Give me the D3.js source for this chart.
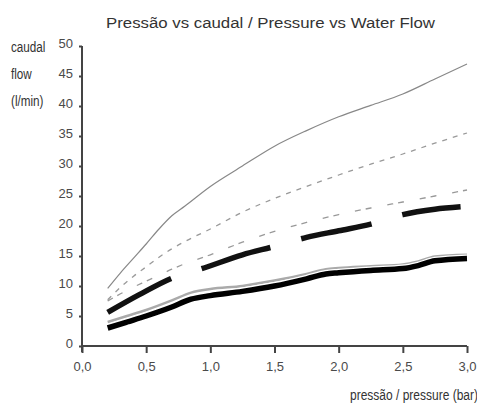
<!DOCTYPE html>
<html>
<head>
<meta charset="utf-8">
<script src="https://cdn.jsdelivr.net/npm/d3@7"></script>
<style>
  body { margin: 0; background: #fff; }
  svg { display: block; }
</style>
</head>
<body>
<svg id="chart"></svg>
<script>
// pressure (bar) sample points for each curve
const thinSolidP = [0.2, 0.3, 0.4, 0.5, 0.6, 0.7, 0.8, 1.0, 1.25, 1.5, 1.75, 2.0, 2.25, 2.5, 2.75, 3.0];
const thinSolidV = [9.6, 12.2, 14.6, 17.0, 19.5, 21.7, 23.3, 26.6, 30.0, 33.3, 35.9, 38.2, 40.1, 42.0, 44.5, 47.0];

const dashedHighP = [0.2, 0.3, 0.4, 0.5, 0.6, 0.7, 0.8, 1.0, 1.25, 1.5, 1.75, 2.0, 2.25, 2.5, 2.75, 3.0];
const dashedHighV = [7.7, 9.8, 11.6, 13.2, 14.8, 16.2, 17.4, 19.5, 22.3, 24.6, 26.6, 28.5, 30.3, 32.0, 33.8, 35.5];

const dashedLowP = [0.2, 0.3, 0.4, 0.5, 0.6, 0.7, 0.8, 1.0, 1.25, 1.5, 1.75, 2.0, 2.25, 2.5, 2.75, 3.0];
const dashedLowV = [7.5, 8.7, 9.8, 10.8, 11.8, 12.8, 13.7, 15.2, 17.3, 19.1, 20.6, 21.9, 23.0, 24.0, 25.0, 26.0];

const longDashP = [0.2, 0.45, 0.7, 0.95, 1.25, 1.5, 1.75, 2.0, 2.25, 2.5, 2.75, 2.95];
const longDashV = [5.6, 8.6, 11.3, 13.0, 15.2, 16.6, 18.1, 19.2, 20.3, 21.9, 22.8, 23.2];

const grayP = [0.2, 0.35, 0.5, 0.7, 0.85, 1.0, 1.25, 1.5, 1.75, 1.9, 2.0, 2.25, 2.5, 2.62, 2.75, 3.0];
const grayV = [4.0, 5.0, 6.0, 7.6, 8.9, 9.5, 10.0, 10.9, 12.0, 12.8, 13.0, 13.3, 13.6, 14.1, 14.9, 15.2];

const thickP = [0.2, 0.35, 0.5, 0.7, 0.85, 1.0, 1.25, 1.5, 1.75, 1.9, 2.0, 2.25, 2.5, 2.62, 2.75, 3.0];
const thickV = [3.0, 4.0, 5.0, 6.5, 7.8, 8.4, 9.1, 10.0, 11.2, 12.0, 12.2, 12.6, 12.9, 13.4, 14.2, 14.6];

const xTicks = [0, 0.5, 1.0, 1.5, 2.0, 2.5, 3.0];
const yTicks = [0, 5, 10, 15, 20, 25, 30, 35, 40, 45, 50];
const yUnitLabels = ["caudal", "flow", "(l/min)"];

const title = "Pressão vs caudal / Pressure vs Water Flow";
const xTitle = "pressão / pressure (bar)";

const W = 477, H = 403;
const margin = { top: 46, right: 10, bottom: 57, left: 82 };

const svg = d3.select("#chart")
  .attr("width", W)
  .attr("height", H);

const x = d3.scaleLinear().domain([0, 3]).range([margin.left, 467]);
const y = d3.scaleLinear().domain([0, 50]).range([H - margin.bottom, margin.top]);

const fmt = d => d3.format(".1f")(d).replace(".", ",");
const sans = "Liberation Sans, Arial, sans-serif";

// title
svg.append("text")
  .attr("x", 106).attr("y", 28)
  .attr("textLength", 329)
  .attr("lengthAdjust", "spacingAndGlyphs")
  .attr("font-family", sans)
  .attr("font-size", 15.5)
  .attr("fill", "#333")
  .text(title);

// y axis
const yAxis = svg.append("g")
  .attr("transform", `translate(${margin.left},0)`)
  .call(d3.axisLeft(y).tickValues(yTicks).tickSize(3).tickPadding(6));
yAxis.select(".domain").attr("stroke", "#444").attr("stroke-width", 2)
  .attr("d", `M0,${y(0) + 6}V${y(50)}`);
yAxis.selectAll(".tick line").attr("stroke", "#444").attr("stroke-width", 2);
yAxis.selectAll(".tick text")
  .attr("font-family", sans)
  .attr("font-size", 13).attr("fill", "#4a4a4a").attr("dy", "0.15em");

// x axis
const xAxis = svg.append("g")
  .attr("transform", `translate(0,${y(0)})`)
  .call(d3.axisBottom(x).tickValues(xTicks).tickFormat(fmt).tickSize(7).tickPadding(9));
xAxis.select(".domain").attr("stroke", "#444").attr("stroke-width", 2)
  .attr("d", `M${x(0)},0H${x(3)}`);
xAxis.selectAll(".tick line").attr("stroke", "#444").attr("stroke-width", 2);
xAxis.selectAll(".tick text")
  .attr("font-family", sans)
  .attr("font-size", 13).attr("fill", "#4a4a4a");

// axis titles (condensed look via horizontal squeeze)
svg.selectAll("text.unit")
  .data(yUnitLabels)
  .join("text")
  .attr("class", "unit")
  .attr("transform", (d, i) => `translate(11,${52 + i * 27}) scale(0.78,1)`)
  .attr("font-family", sans)
  .attr("font-size", 15)
  .attr("fill", "#333")
  .text(d => d);

svg.append("text")
  .attr("transform", "translate(350,400) scale(0.8,1)")
  .attr("font-family", sans)
  .attr("font-size", 15)
  .attr("fill", "#333")
  .text(xTitle);

const line = d3.line()
  .x(d => x(d[0]))
  .y(d => y(d[1]))
  .curve(d3.curveMonotoneX);

const pairs = (ps, vs) => ps.map((p, i) => [p, vs[i]]);

svg.append("path")
  .datum(pairs(thinSolidP, thinSolidV))
  .attr("d", line).attr("fill", "none")
  .attr("stroke", "#888").attr("stroke-width", 1.2);

svg.append("path")
  .datum(pairs(dashedHighP, dashedHighV))
  .attr("d", line).attr("fill", "none")
  .attr("stroke", "#999").attr("stroke-width", 1.3)
  .attr("stroke-dasharray", "5,6");

svg.append("path")
  .datum(pairs(dashedLowP, dashedLowV))
  .attr("d", line).attr("fill", "none")
  .attr("stroke", "#999").attr("stroke-width", 1.3)
  .attr("stroke-dasharray", "6,5,6,16");

svg.append("path")
  .datum(pairs(longDashP, longDashV))
  .attr("d", line).attr("fill", "none")
  .attr("stroke", "#111").attr("stroke-width", 5.5)
  .attr("stroke-dasharray", "72,32");

svg.append("path")
  .datum(pairs(grayP, grayV))
  .attr("d", line).attr("fill", "none")
  .attr("stroke", "#aaa").attr("stroke-width", 2.5);

// white halo under the thick black curve
svg.append("path")
  .datum(pairs(thickP, thickV))
  .attr("d", line).attr("fill", "none")
  .attr("stroke", "#fff").attr("stroke-width", 8);

svg.append("path")
  .datum(pairs(thickP, thickV))
  .attr("d", line).attr("fill", "none")
  .attr("stroke", "#000").attr("stroke-width", 5.5);
</script>
</body>
</html>
